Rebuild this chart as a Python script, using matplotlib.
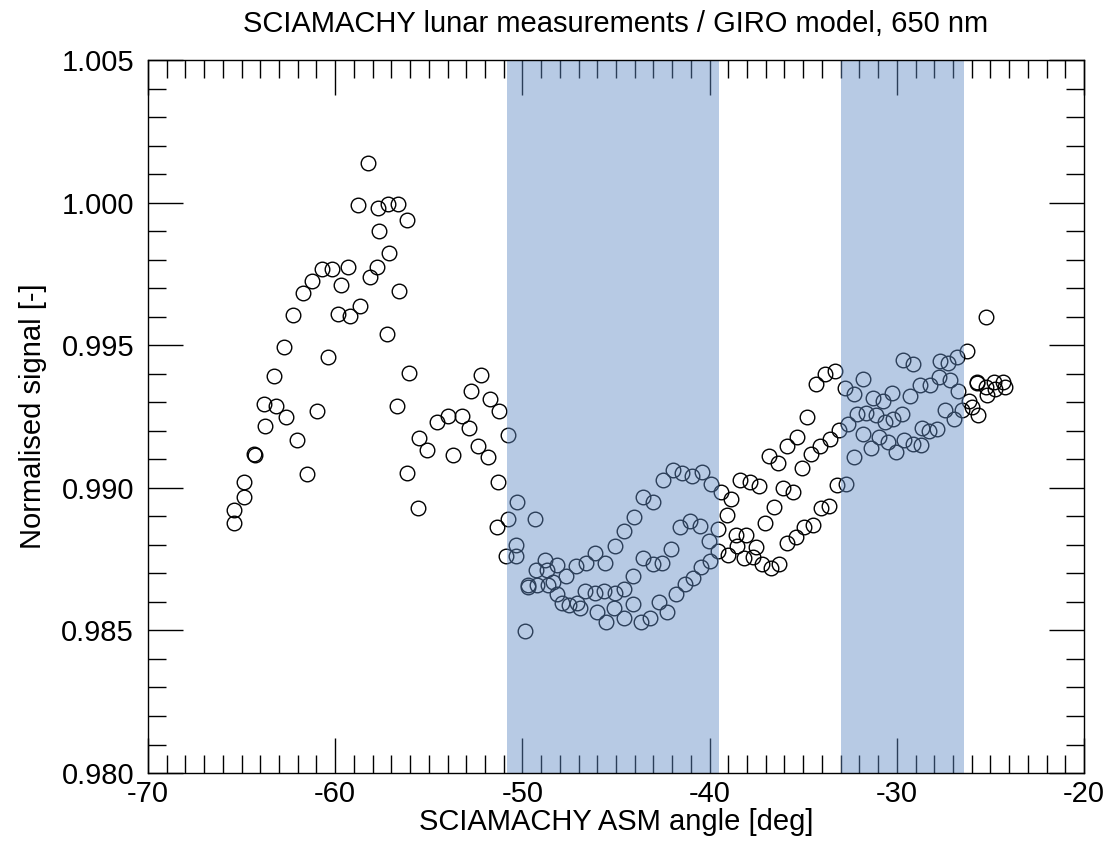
import matplotlib
matplotlib.use('Agg')
import matplotlib.pyplot as plt
from matplotlib.ticker import MultipleLocator, FormatStrFormatter

plt.rcParams['font.family'] = ['Liberation Sans', 'DejaVu Sans']
plt.rcParams['axes.unicode_minus'] = False

# ASM angle [deg] and normalised signal
angle = [-65.42, -65.39, -64.85, -64.85, -64.32, -64.30, -63.82, -63.73, -63.29, -63.16,
         -62.73, -62.61, -62.25, -62.06, -61.74, -61.49, -61.22, -60.96, -60.71, -60.40,
         -60.19, -59.85, -59.69, -59.34, -59.19, -58.77, -58.66, -58.23, -58.16, -57.77,
         -57.71, -57.68, -57.22, -57.16, -57.14, -56.68, -56.63, -56.59, -56.15, -56.15,
         -56.04, -55.59, -55.53, -55.08, -54.55, -53.97, -53.69, -53.23, -52.87, -52.73,
         -52.36, -52.23, -51.84, -51.73, -51.37, -51.30, -51.27, -50.86, -50.77, -50.77,
         -50.34, -50.34, -50.29, -49.84, -49.72, -49.72, -49.33, -49.27, -49.21, -48.77,
         -48.70, -48.61, -48.35, -48.17, -48.14, -47.89, -47.67, -47.50, -47.14, -47.10,
         -46.92, -46.64, -46.60, -46.12, -46.11, -46.00, -45.63, -45.59, -45.53, -45.08,
         -45.05, -45.05, -44.57, -44.57, -44.57, -44.11, -44.07, -44.04, -43.65, -43.58,
         -43.54, -43.18, -43.04, -43.01, -42.72, -42.56, -42.51, -42.26, -42.08, -41.98,
         -41.79, -41.58, -41.47, -41.33, -41.05, -40.94, -40.87, -40.51, -40.44, -40.43,
         -40.05, -39.98, -39.92, -39.55, -39.53, -39.41, -39.06, -39.00, -38.88, -38.59,
         -38.56, -38.35, -38.16, -38.07, -37.85, -37.67, -37.54, -37.35, -37.22, -37.04,
         -36.85, -36.74, -36.56, -36.33, -36.29, -36.06, -35.85, -35.85, -35.53, -35.38,
         -35.32, -35.05, -34.96, -34.82, -34.58, -34.50, -34.32, -34.10, -34.07, -33.83,
         -33.61, -33.57, -33.30, -33.22, -33.07, -32.77, -32.72, -32.59, -32.29, -32.29,
         -32.11, -31.82, -31.82, -31.65, -31.39, -31.29, -31.11, -30.94, -30.76, -30.63,
         -30.45, -30.28, -30.19, -30.04, -29.74, -29.65, -29.62, -29.29, -29.15, -29.12,
         -28.76, -28.72, -28.67, -28.26, -28.23, -27.84, -27.73, -27.69, -27.42, -27.25,
         -27.16, -26.94, -26.77, -26.71, -26.52, -26.23, -26.13, -26.00, -25.73, -25.70,
         -25.64, -25.26, -25.24, -25.20, -24.81, -24.76, -24.35, -24.22]

signal = [0.98922, 0.98875, 0.99021, 0.98968, 0.99119, 0.99116, 0.99294, 0.99216, 0.99391, 0.99286,
          0.99495, 0.99249, 0.99606, 0.99168, 0.99684, 0.99047, 0.99726, 0.99271, 0.99768, 0.99458,
          0.99768, 0.99609, 0.99710, 0.99774, 0.99604, 0.99993, 0.99639, 1.00140, 0.99741, 0.99776,
          0.99981, 0.99902, 0.99540, 0.99995, 0.99825, 0.99287, 0.99995, 0.99689, 0.99939, 0.99052,
          0.99403, 0.98930, 0.99175, 0.99133, 0.99232, 0.99252, 0.99114, 0.99253, 0.99211, 0.99341,
          0.99147, 0.99396, 0.99109, 0.99313, 0.98864, 0.99020, 0.99270, 0.98761, 0.99187, 0.98891,
          0.98761, 0.98801, 0.98952, 0.98499, 0.98660, 0.98654, 0.98891, 0.98712, 0.98660, 0.98748,
          0.98712, 0.98660, 0.98671, 0.98730, 0.98628, 0.98596, 0.98691, 0.98590, 0.98727, 0.98596,
          0.98578, 0.98640, 0.98736, 0.98633, 0.98773, 0.98563, 0.98637, 0.98736, 0.98529, 0.98578,
          0.98797, 0.98631, 0.98850, 0.98645, 0.98543, 0.98592, 0.98691, 0.98899, 0.98528, 0.98753,
          0.98967, 0.98543, 0.98733, 0.98949, 0.98599, 0.98736, 0.99028, 0.98563, 0.98785, 0.99061,
          0.98627, 0.98864, 0.99051, 0.98662, 0.98885, 0.99042, 0.98683, 0.98867, 0.98724, 0.99057,
          0.98812, 0.98742, 0.99014, 0.98780, 0.98855, 0.98987, 0.98905, 0.98765, 0.98960, 0.98835,
          0.98797, 0.99026, 0.98753, 0.98835, 0.99022, 0.98759, 0.98794, 0.99008, 0.98733, 0.98878,
          0.99113, 0.98718, 0.98932, 0.99086, 0.98733, 0.98999, 0.99147, 0.98808, 0.98986, 0.98826,
          0.99180, 0.99071, 0.98862, 0.99248, 0.99119, 0.98871, 0.99364, 0.99148, 0.98931, 0.99398,
          0.98938, 0.99171, 0.99408, 0.99010, 0.99203, 0.99351, 0.99013, 0.99224, 0.99328, 0.99107,
          0.99258, 0.99382, 0.99188, 0.99262, 0.99140, 0.99314, 0.99256, 0.99178, 0.99306, 0.99232,
          0.99162, 0.99332, 0.99241, 0.99127, 0.99259, 0.99448, 0.99166, 0.99322, 0.99153, 0.99433,
          0.99361, 0.99151, 0.99209, 0.99200, 0.99361, 0.99206, 0.99390, 0.99446, 0.99273, 0.99437,
          0.99378, 0.99241, 0.99460, 0.99341, 0.99273, 0.99481, 0.99306, 0.99283, 0.99372, 0.99368,
          0.99255, 0.99598, 0.99355, 0.99326, 0.99372, 0.99346, 0.99372, 0.99355]

# shaded angle ranges
bands = [(-50.8, -39.5), (-33.0, -26.4)]

fig = plt.figure(figsize=(11.11, 8.42), dpi=100)
ax = fig.add_axes([0.1332, 0.0819, 0.8425, 0.8468])

ax.plot(angle, signal, 'o', markersize=10.5, markerfacecolor='none',
        markeredgecolor='black', markeredgewidth=1.0, zorder=2)

for lo, hi in bands:
    ax.axvspan(lo, hi, color='#608AC4', alpha=0.45, lw=0, zorder=3)

ax.set_xlim(-70, -20)
ax.set_ylim(0.980, 1.005)
ax.xaxis.set_major_locator(MultipleLocator(10))
ax.xaxis.set_minor_locator(MultipleLocator(1))
ax.yaxis.set_major_locator(MultipleLocator(0.005))
ax.yaxis.set_minor_locator(MultipleLocator(0.001))
ax.yaxis.set_major_formatter(FormatStrFormatter('%.3f'))

ax.tick_params(which='both', direction='in', top=True, right=True, width=1.0,
               labelsize=21, zorder=4)
ax.tick_params(which='major', length=25)
ax.tick_params(which='minor', length=13)
ax.tick_params(axis='x', which='major', pad=5)
ax.tick_params(axis='y', which='major', pad=10)
for sp in ax.spines.values():
    sp.set_linewidth(1.0)
    sp.set_zorder(5)

ax.set_xlabel('SCIAMACHY ASM angle [deg]', fontsize=21, labelpad=0)
ax.set_ylabel('Normalised signal [-]', fontsize=21, labelpad=10)
ax.set_title('SCIAMACHY lunar measurements / GIRO model, 650 nm', fontsize=21, pad=20)

fig.savefig('out.png', dpi=100)
